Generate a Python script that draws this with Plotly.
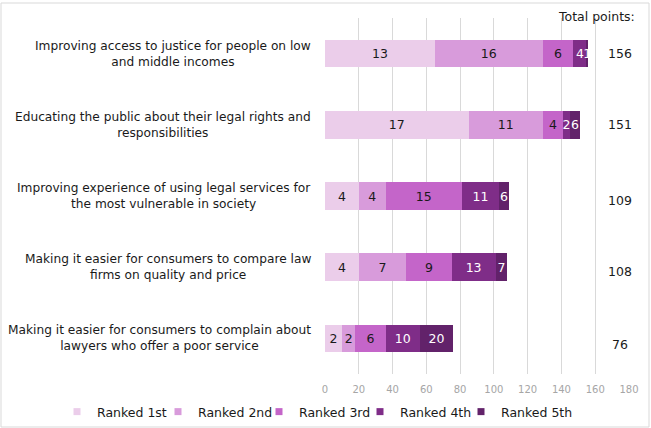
import plotly.graph_objects as go

categories = [
    "Improving access to justice for people on low<br>and middle incomes",
    "Educating the public about their legal rights and<br>responsibilities",
    "Improving experience of using legal services for<br>the most vulnerable in society",
    "Making it easier for consumers to compare law<br>firms on quality and price",
    "Making it easier for consumers to complain about<br>lawyers who offer a poor service",
]
series_names = ["Ranked 1st", "Ranked 2nd", "Ranked 3rd", "Ranked 4th", "Ranked 5th"]
# counts of respondents per rank (labels shown in bars)
ranked_1st = [13, 17, 4, 4, 2]
ranked_2nd = [16, 11, 4, 7, 2]
ranked_3rd = [6, 4, 15, 9, 6]
ranked_4th = [4, 2, 11, 13, 10]
ranked_5th = [1, 6, 6, 7, 20]
# points awarded per rank
points_per_rank = [5, 4, 3, 2, 1]
x_ticks = [0, 20, 40, 60, 80, 100, 120, 140, 160, 180]

counts = [ranked_1st, ranked_2nd, ranked_3rd, ranked_4th, ranked_5th]
colors = ["#ebcdea", "#d89bdb", "#c465c9", "#7f2d88", "#62226a"]
text_colors = ["#1a1a1a", "#1a1a1a", "#1a1a1a", "#ffffff", "#ffffff"]
total_yshift = [0, 0, -4, -4, -6]
FONT = "DejaVu Sans, sans-serif"

L, R, T, B, W, H = 325, 22, 18, 54, 651, 428
PW, PH = W - L - R, H - T - B


def px_x(x):
    return (x - L) / PW


def px_y(y):
    return (H - B - y) / PH


fig = go.Figure()
for name, cnt, w, col, tc in zip(series_names, counts, points_per_rank, colors, text_colors):
    fig.add_trace(go.Bar(
        y=categories, x=[c * w for c in cnt], orientation="h", name=name,
        marker=dict(color=col, line=dict(width=0)),
        text=[str(c) for c in cnt], textposition="inside", insidetextanchor="middle",
        textangle=0, textfont=dict(color=tc, size=12.5, family=FONT),
        showlegend=False, hoverinfo="skip",
    ))
    fig.add_trace(go.Scatter(
        x=[None], y=[None], mode="markers", name=name,
        marker=dict(symbol="square", size=7, color=col), showlegend=True,
    ))
# invisible spacer entry so the last legend label is not clipped
fig.add_trace(go.Scatter(
    x=[None], y=[None], mode="markers", name=" ",
    marker=dict(symbol="square", size=1, color="rgba(0,0,0,0)"), showlegend=True,
))

totals = [sum(c[i] * w for c, w in zip(counts, points_per_rank)) for i in range(len(categories))]

annotations = []
for cat, tot, ys in zip(categories, totals, total_yshift):
    annotations.append(dict(
        x=px_x(620), xref="paper", y=cat, yref="y", yshift=ys, text=str(tot),
        showarrow=False, xanchor="center", font=dict(size=12.5, color="#1a1a1a", family=FONT),
    ))
    annotations.append(dict(
        x=0, xref="paper", xshift=-12, y=cat, yref="y", text=cat,
        showarrow=False, xanchor="right", align="center",
        font=dict(size=12.2, color="#1a1a1a", family=FONT),
    ))
annotations.append(dict(
    x=px_x(637), xref="paper", y=px_y(17), yref="paper", text="Total points:",
    showarrow=False, xanchor="right", yanchor="middle",
    font=dict(size=12.5, color="#1a1a1a", family=FONT),
))

fig.update_layout(
    barmode="stack", bargap=0.61,
    width=W, height=H,
    margin=dict(l=L, r=R, t=T, b=B, autoexpand=False),
    paper_bgcolor="white", plot_bgcolor="white",
    font=dict(family=FONT, color="#1a1a1a"),
    uniformtext=dict(minsize=12, mode="show"),
    xaxis=dict(range=[0, 180], tickvals=x_ticks, showgrid=True, gridcolor="#d9d9d9",
               gridwidth=1, zeroline=False, showline=False, ticklabelstandoff=8,
               tickfont=dict(size=10, color="#a6a6a6", family=FONT), ticks="",
               fixedrange=True),
    yaxis=dict(autorange="reversed", showticklabels=False, showgrid=False, ticks="",
               showline=False, zeroline=False),
    legend=dict(orientation="h", traceorder="normal",
                x=px_x(57), xanchor="left", y=px_y(412), yanchor="middle",
                entrywidth=56, entrywidthmode="pixels", itemwidth=30,
                font=dict(size=12.5, color="#1a1a1a", family=FONT),
                bgcolor="rgba(0,0,0,0)"),
    annotations=annotations,
    shapes=[dict(type="rect", xref="paper", yref="paper",
                 x0=px_x(1), x1=px_x(649), y0=px_y(427), y1=px_y(3),
                 line=dict(color="#d9d9d9", width=1), fillcolor="rgba(0,0,0,0)", layer="below")],
)

fig.write_html("out.html")
